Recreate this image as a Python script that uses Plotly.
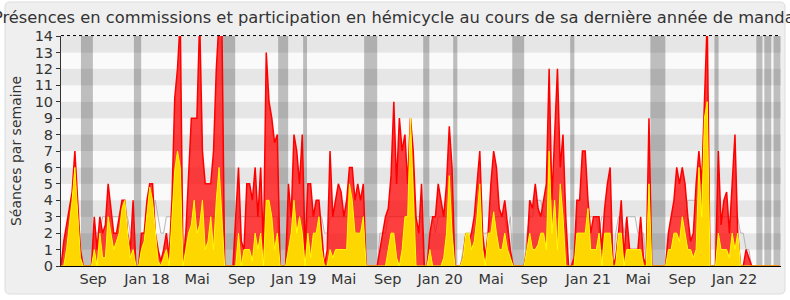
import plotly.graph_objects as go

# ---------------- data (weekly values) ----------------
semaines = list(range(260))

presences_commission = [
    0, 1.5, 2.5, 3.5, 4.5, 7, 4, 1, 0, 0,
    0, 0, 3, 1, 3, 2, 2.5, 5, 3.5, 2,
    2, 3, 4, 4, 2, 1, 4, 0, 0, 2,
    2, 4, 5, 5, 2, 1, 0.3, 1, 2, 0.5,
    4, 10.2, 12, 15, 0, 2, 6, 9, 9, 9,
    15, 7, 5, 5, 5, 7, 12, 15, 15, 0,
    0, 0, 0, 3, 6, 1.5, 1, 5, 5, 4,
    6, 3, 6, 1, 13, 10, 9, 7.5, 8, 0,
    0, 0, 5, 3, 8, 7, 5, 8, 1, 5,
    5, 3, 4, 4, 2, 0, 1, 7, 3, 4,
    5, 4.5, 3, 4, 6, 6, 4, 5, 4, 5,
    0, 0, 0, 0, 0, 1, 2, 3, 3.5, 5.5,
    10, 5, 9, 7, 8, 5, 9, 7, 3, 2,
    5, 0, 0, 2, 3, 3, 5, 4, 3, 5,
    8.5, 6, 0, 0, 0, 0.5, 2, 1.5, 2, 3,
    5, 7, 2, 0.5, 2, 5, 7, 6, 3.5, 3,
    4, 2.5, 1, 0, 0, 0, 0, 0, 1, 4,
    3.5, 5, 3.5, 3, 4, 5, 12, 4, 8, 12,
    6, 8, 3, 0, 0, 0.5, 4, 4, 7, 7,
    4, 2, 3, 3, 3, 1, 3.5, 5, 6, 0,
    0.5, 2, 4, 0.5, 3, 1, 1, 1, 1, 3,
    0.5, 0, 9, 0, 0, 0, 0, 0, 0, 2,
    3, 4, 6, 5, 6, 5, 3, 1.5, 2, 5,
    7, 5, 10, 15, 0, 0, 0, 7, 2.5, 4,
    4.5, 2, 5, 8, 2, 0, 0, 1, 0.5, 0,
    0, 0, 0, 0, 0, 0, 0, 0, 0, 0,
]

participation_hemicycle = [
    0, 0, 1, 2.5, 4, 6, 3, 0.5, 0, 0,
    0, 0, 1, 0, 2, 0.5, 0.5, 3, 2, 1,
    1.5, 2, 3.5, 4, 2, 0.5, 1, 0, 0, 1,
    1.5, 3, 4.8, 4, 2, 0.3, 0, 0.5, 1, 0,
    3, 5.8, 7, 6, 0, 1, 2, 2.5, 4, 2,
    2.5, 4, 1, 1.5, 3, 1, 4, 6, 3, 0,
    0, 0, 0, 0, 2, 0, 1, 1, 1, 0.3,
    2, 1, 2, 0, 4, 4, 3, 1, 2, 0,
    0, 0, 1, 2, 4, 2, 3, 2, 0, 2,
    0.5, 2, 2, 3, 1, 0, 0, 1, 0.5, 1,
    1, 1, 1, 1, 5, 4, 2, 2, 2, 3,
    0, 0, 0, 0, 0, 0, 0, 0, 1, 2,
    2, 0.5, 0, 1, 3, 3, 9, 4, 0, 0,
    0, 0, 0, 1, 0, 0, 0, 0, 0.5, 2,
    5.5, 2, 0, 0, 0, 0.5, 2, 2, 1, 1.5,
    3, 5, 1, 0, 2, 2, 3.3, 2, 1, 1,
    2, 1, 0.5, 0, 0, 0, 0, 0, 1, 2,
    1, 1, 1.3, 2, 2, 1, 7, 2, 4, 1,
    5, 3, 0, 0, 0, 0, 2, 2, 2, 2,
    3.5, 1, 1, 1, 2, 0, 2, 2, 2, 0,
    0, 2, 2, 0, 1, 1, 1, 1, 1, 1,
    0, 0, 5, 0, 0, 0, 0, 0, 0, 1,
    1, 2, 2, 1.5, 3, 2, 1, 1, 0.5, 1,
    6, 3, 9, 10, 0, 0, 0, 2, 1, 1,
    1, 0.5, 2, 1, 2, 0, 0, 0, 0, 0,
    0, 0, 0, 0, 0, 0, 0, 0, 0, 0,
]

mediane_deputes = [
    0, 1, 2, 3, 4, 4, 3, 1, 0, 0,
    0, 0, 2, 2, 2, 3, 3, 3, 3, 3,
    3, 3, 3, 3, 3, 2, 2, 0, 0, 2,
    2, 3, 3, 3, 4, 3, 2, 2, 3, 3,
    3, 3, 3, 3, 1, 2, 3, 3, 3, 3,
    3, 3, 3, 3, 3, 3, 3, 3, 2, 0,
    0, 0, 0, 2, 3, 3, 3, 3, 3, 3,
    3, 3, 3, 3, 4, 4, 3, 3, 3, 0,
    0, 0, 3, 3, 3, 3, 3, 3, 1, 3,
    3, 3, 3, 3, 3, 2, 2, 3, 3, 3,
    3, 3, 3, 3, 3, 3, 3, 3, 3, 3,
    0, 0, 0, 0, 0, 2, 2, 2, 3, 3,
    3, 3, 3, 3, 3, 3, 3, 3, 3, 3,
    3, 0, 0, 3, 3, 2, 3, 3, 3, 3,
    3, 3, 0, 0, 0, 1, 2, 2, 2, 2,
    3, 3, 2, 2, 2, 3, 3, 3, 3, 3,
    3, 2, 3, 0, 0, 0, 0, 0, 2, 3,
    3, 4, 4, 4, 3, 3, 3, 3, 3, 3,
    3, 3, 2, 0, 0, 0, 3, 3, 3, 3,
    3, 3, 3, 3, 2, 3, 3, 3, 3, 0,
    2, 3, 3, 2, 3, 3, 3, 3, 2, 2,
    2, 0, 3, 0, 0, 0, 0, 0, 0, 2,
    3, 3, 3, 3, 3, 3, 4, 4, 4, 4,
    3, 3, 3, 3, 0, 0, 0, 3, 3, 3,
    3, 3, 3, 3, 3, 2, 2, 1, 1, 0,
    0, 0, 0, 0, 0, 0, 0, 0, 0, 0,
]

# vacation periods (in weeks)
vacances_debut = [7.2, 26.3, 58.4, 78.3, 87.3, 109.3, 130.6, 141.4, 162.7, 183.6, 212.5, 235.6, 250.7, 253.6, 256.9]
vacances_fin = [11.5, 28.9, 62.8, 81.9, 88.7, 114.0, 132.8, 142.9, 167.0, 185.1, 217.9, 237.1, 252.9, 256.1, 259.4]

mois_semaines = [11.6, 31.0, 49.1, 65.1, 83.9, 101.9, 117.8, 136.7, 155.1, 170.6, 190.1, 208.1, 224.0, 242.8]
mois_labels = ["Sep", "Jan 18", "Mai", "Sep", "Jan 19", "Mai", "Sep", "Jan 20", "Mai", "Sep", "Jan 21", "Mai", "Sep", "Jan 22"]
y_ticks = list(range(0, 15))

titre = "Présences en commissions et participation en hémicycle au cours de sa dernière année de mandat"

# ---------------- figure ----------------
W, H = 790, 300
ML, MR, MT, MB = 61, 9, 36, 34
PW, PH = W - ML - MR, H - MT - MB


def px(x):
    return (x - ML) / PW


def py(y):
    return (H - MB - y) / PH


fig = go.Figure()

fig.add_trace(go.Scatter(x=semaines, y=mediane_deputes, mode="lines",
                         line=dict(color="rgba(175,175,175,0.9)", width=1),
                         hoverinfo="skip"))
fig.add_trace(go.Scatter(x=semaines, y=presences_commission, mode="lines",
                         fill="tozeroy", fillcolor="rgba(255,0,0,0.75)",
                         line=dict(color="#ff0000", width=1.5)))
fig.add_trace(go.Scatter(x=semaines, y=participation_hemicycle, mode="lines",
                         fill="tozeroy", fillcolor="#ffd700",
                         line=dict(color="#ffff00", width=1)))

shapes = []
# rounded frame
x0, x1, y0, y1, r = 5, 785, 2, 294, 5
pts = [
    ("M", [(x0 + r, y0)]), ("L", [(x1 - r, y0)]), ("Q", [(x1, y0), (x1, y0 + r)]),
    ("L", [(x1, y1 - r)]), ("Q", [(x1, y1), (x1 - r, y1)]), ("L", [(x0 + r, y1)]),
    ("Q", [(x0, y1), (x0, y1 - r)]), ("L", [(x0, y0 + r)]), ("Q", [(x0, y0), (x0 + r, y0)]),
]
path = " ".join(c + " " + " ".join(f"{px(a):.5f},{py(b):.5f}" for a, b in p) for c, p in pts) + " Z"
shapes.append(dict(type="path", path=path, xref="paper", yref="paper",
                   fillcolor="#efefef", line=dict(color="#dcdcdc", width=1), layer="below"))

# horizontal bands
for k in y_ticks[:-1]:
    shapes.append(dict(type="rect", xref="paper", yref="y", x0=0, x1=1, y0=k, y1=k + 1,
                       fillcolor="#e6e6e6" if k % 2 == 1 else "#fafafa",
                       line=dict(width=0), layer="below"))
# vacation bands
for a, b in zip(vacances_debut, vacances_fin):
    shapes.append(dict(type="rect", xref="x", yref="paper", x0=a, x1=b, y0=0, y1=1,
                       fillcolor="rgba(0,0,0,0.24)", line=dict(width=0), layer="below"))
# dotted top line
shapes.append(dict(type="line", xref="paper", yref="paper", x0=0, x1=1, y0=1.002, y1=1.002,
                   line=dict(color="#000000", width=1, dash="dot"), layer="above"))

fig.update_layout(
    width=W, height=H,
    margin=dict(l=ML, r=MR, t=MT, b=MB, pad=0),
    paper_bgcolor="#ffffff", plot_bgcolor="rgba(0,0,0,0)",
    showlegend=False,
    font=dict(family="DejaVu Sans", color="#333333", size=14),
    title=dict(text=titre, x=397 / W, xref="container", xanchor="center",
               y=1 - 17 / H, yref="container", yanchor="middle",
               font=dict(size=16.3, color="#333333", family="DejaVu Sans")),
    shapes=shapes,
    xaxis=dict(range=[0, 259.6], tickvals=mois_semaines, ticktext=mois_labels,
               showgrid=False, zeroline=False, showline=True, linecolor="#000000",
               linewidth=1, ticks="", tickfont=dict(size=14.5, color="#333333")),
    yaxis=dict(range=[0, 14], tickvals=y_ticks, showgrid=False, zeroline=False,
               showline=True, linecolor="#333333", linewidth=1, ticks="outside",
               ticklen=4, tickcolor="#333333", tickfont=dict(size=14.5, color="#333333"),
               title=dict(text="Séances par semaine", standoff=9,
                          font=dict(size=14, color="#333333"))),
)

fig.write_html("out.html")
